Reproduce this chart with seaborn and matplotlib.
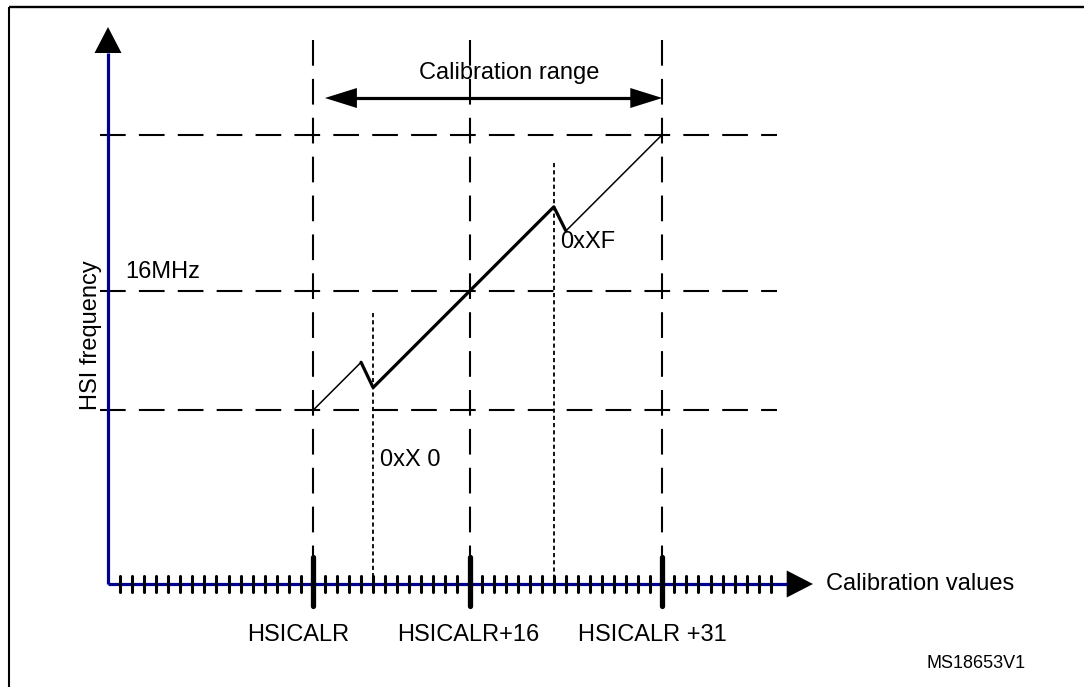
import matplotlib
matplotlib.use("Agg")
import matplotlib.pyplot as plt
import seaborn as sns
import pandas as pd

# ---------------- data ----------------
# calibration steps (x) and relative HSI frequency (y)
cal_thin1 = [17, 21]
hsi_thin1 = [14.4, 18.4]
cal_thick = [21, 22, 37, 38]
hsi_thick = [18.4, 16.3, 31.3, 29.3]
cal_thin2 = [38, 46]
hsi_thin2 = [29.3, 37.3]

hline_levels = [14.4, 24.3, 37.3]          # low, 16MHz, high
range_marks = [17, 30, 46]                  # HSICALR, +16, +31
range_labels = ["HSICALR", "HSICALR+16", "HSICALR +31"]
trim_marks = [22, 37]                       # 0xX0, 0xXF
trim_tops = [22.5, 34.9]
trim_labels = ["0xX 0", "0xXF"]
n_ticks = 55

# ---------------- layout ----------------
PX = 12.05  # pixels per unit
X0, Y0 = 108, 584  # origin in pixels
W, H = 1084, 687

sns.set_theme(style="white")
plt.rcParams["font.family"] = ["Liberation Sans", "DejaVu Sans"]
plt.rcParams["text.color"] = "black"
plt.rcParams["lines.scale_dashes"] = False

fig = plt.figure(figsize=(W / 100, H / 100), dpi=100)
ax = fig.add_axes([0, 0, 1, 1])
ax.set_xlim(-X0 / PX, (W - X0) / PX)
ax.set_ylim(-(H - Y0) / PX, Y0 / PX)
ax.axis("off")

def u(px):
    return px / PX

long_dash = (0, (18.5, 9.5))
short_dash = (0, (3.0, 2.2))

# horizontal dashed lines
for lv in hline_levels:
    ax.plot([u(-8), u(669)], [lv, lv], color="black", lw=1.5, ls=long_dash,
            dash_capstyle="butt")

# vertical dashed lines
for m in range_marks:
    ax.plot([m, m], [u(Y0 - 40), u(28)], color="black", lw=1.5, ls=long_dash,
            dash_capstyle="butt")

# dotted trim lines
for m, t in zip(trim_marks, trim_tops):
    ax.plot([m, m], [t, 0], color="black", lw=1.3, ls=short_dash,
            dash_capstyle="butt")

# axes
axis_col = "#00008f"
ax.plot([0, 0], [0, u(Y0 - 53)], color=axis_col, lw=2.3, solid_capstyle="butt")
ax.plot([0, u(786.7 - X0)], [0, 0], color=axis_col, lw=2.3, solid_capstyle="butt")
# arrow heads
ax.fill([-u(13.5), u(13.5), 0], [u(Y0 - 53), u(Y0 - 53), u(Y0 - 27)],
        color="black", lw=0)
ax.fill([u(786.7 - X0), u(786.7 - X0), u(813 - X0)], [u(13.5), -u(13.5), 0],
        color="black", lw=0)

# ticks
for k in range(1, n_ticks + 1):
    if k in range_marks:
        continue
    ax.plot([k, k], [u(8), -u(8)], color="black", lw=2.2, solid_capstyle="round")
for m in range_marks:
    ax.plot([m, m], [u(27), -u(22)], color="black", lw=3.8, solid_capstyle="round")

# HSI curve via seaborn
df1 = pd.DataFrame({"cal": cal_thin1, "hsi": hsi_thin1})
df2 = pd.DataFrame({"cal": cal_thick, "hsi": hsi_thick})
df3 = pd.DataFrame({"cal": cal_thin2, "hsi": hsi_thin2})
sns.lineplot(data=df1, x="cal", y="hsi", ax=ax, color="black", lw=1.1, sort=False)
sns.lineplot(data=df2, x="cal", y="hsi", ax=ax, color="black", lw=2.3, sort=False)
sns.lineplot(data=df3, x="cal", y="hsi", ax=ax, color="black", lw=1.1, sort=False)
ax.axis("off")

# calibration range arrow
ya = u(Y0 - 98)
l, r = 18, 46
hl, hw = u(32), u(10)
ax.plot([l + hl * 0.9, r - hl * 0.9], [ya, ya], color="black", lw=2.3)
ax.fill([l, l + hl, l + hl], [ya, ya + hw, ya - hw], color="black", lw=0)
ax.fill([r, r - hl, r - hl], [ya, ya + hw, ya - hw], color="black", lw=0)

fs = 17
ax.text(u(509 - X0), u(Y0 - 73), "Calibration range", ha="center", va="center", fontsize=fs)
ax.text(u(125 - X0), u(Y0 - 272), "16MHz", ha="left", va="center", fontsize=fs)
ax.text(u(91 - X0), u(Y0 - 335), "HSI frequency", ha="center", va="center",
        rotation=90, fontsize=fs)
ax.text(u(380 - X0), u(Y0 - 460), trim_labels[0], ha="left", va="center", fontsize=fs)
ax.text(u(560 - X0), u(Y0 - 242), trim_labels[1], ha="left", va="center", fontsize=fs)
for m, lab, cx in zip(range_marks, range_labels, [298, 468, 652]):
    ax.text(u(cx - X0), u(Y0 - 635), lab, ha="center", va="center", fontsize=fs)
ax.text(u(826 - X0), 0, "Calibration values", ha="left", va="center", fontsize=fs)
ax.text(u(926 - X0), u(Y0 - 663), "MS18653V1", ha="left", va="center", fontsize=13)

# frame
ax.plot([u(9 - X0), u(W - X0)], [u(Y0 - 7), u(Y0 - 7)], color="black", lw=1.7,
        solid_capstyle="butt")
ax.plot([u(9 - X0), u(9 - X0)], [u(Y0 - 7), u(Y0 - H)], color="black", lw=1.5,
        solid_capstyle="butt")

fig.savefig("out.png", dpi=100)
